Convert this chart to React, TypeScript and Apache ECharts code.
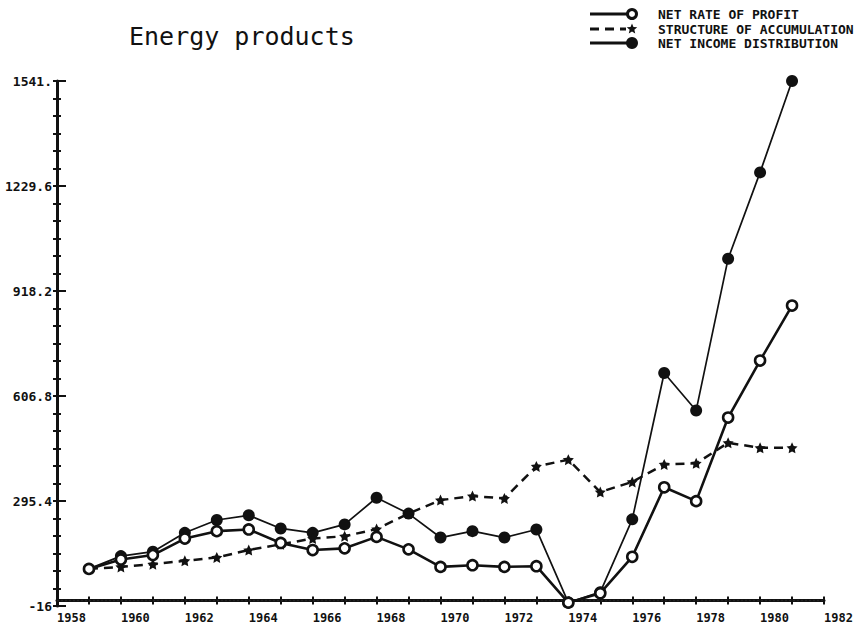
import React, { useEffect, useRef } from "react";
import * as echarts from "echarts";

const TITLE = "Energy products";
const SERIES_NAMES = ["NET RATE OF PROFIT", "STRUCTURE OF ACCUMULATION", "NET INCOME DISTRIBUTION"];

const YEARS = [1959, 1960, 1961, 1962, 1963, 1964, 1965, 1966, 1967, 1968, 1969, 1970, 1971, 1972, 1973, 1974, 1975, 1976, 1977, 1978, 1979, 1980, 1981];
const NET_RATE_OF_PROFIT = [94, 122, 135, 184, 206, 211, 171, 150, 155, 189, 152, 100, 105, 100, 102, -6, 22, 130, 336, 295, 543, 712, 875];
const STRUCTURE_OF_ACCUMULATION = [94, 100, 108, 118, 128, 150, 167, 184, 191, 212, 258, 298, 310, 303, 398, 418, 322, 352, 404, 407, 468, 453, 453];
const NET_INCOME_DISTRIBUTION = [94, 132, 145, 201, 239, 253, 214, 201, 226, 305, 258, 187, 206, 187, 211, -6, 25, 241, 675, 564, 1014, 1270, 1541];

const Y_TICKS = [-16, 295.4, 606.8, 918.2, 1229.6, 1541];
const Y_TICK_LABELS = ["-16", "295.4", "606.8", "918.2", "1229.6", "1541."];
const ZERO_VALUE = 0;
const X_MIN = 1958;
const X_MAX = 1982;
const X_LABEL_STEP = 2;

const INK = "#111";
const MONO = "DejaVu Sans Mono";
const STAR = "path://M0,-10 L2.9,-4 9.5,-3.1 4.7,1.5 5.9,8.1 0,5 -5.9,8.1 -4.7,1.5 -9.5,-3.1 -2.9,-4 Z";

function minorTicks(ticks: number[], parts: number): number[] {
  const out: number[] = [];
  for (let i = 0; i < ticks.length - 1; i++) {
    for (let k = 0; k < parts; k++) {
      out.push(ticks[i] + ((ticks[i + 1] - ticks[i]) * k) / parts);
    }
  }
  out.push(ticks[ticks.length - 1]);
  return out;
}

function starPoints(cx: number, cy: number, r: number): number[][] {
  const pts: number[][] = [];
  for (let i = 0; i < 10; i++) {
    const a = -Math.PI / 2 + (i * Math.PI) / 5;
    const rr = i % 2 === 0 ? r : r * 0.45;
    pts.push([cx + rr * Math.cos(a), cy + rr * Math.sin(a)]);
  }
  return pts;
}

export default function App() {
  const ref = useRef<HTMLDivElement>(null);

  useEffect(() => {
    document.body.style.margin = "0";
    if (!ref.current) return;
    const chart = echarts.init(ref.current, undefined, { renderer: "svg" });
    const yAll = minorTicks(Y_TICKS, 6);
    const yMin = Y_TICKS[0];
    const yMax = Y_TICKS[Y_TICKS.length - 1];

    const yLabel = (v: number) => {
      let best = 0;
      for (let i = 1; i < Y_TICKS.length; i++) {
        if (Math.abs(Y_TICKS[i] - v) < Math.abs(Y_TICKS[best] - v)) best = i;
      }
      return Y_TICK_LABELS[best];
    };

    const baseY = {
      type: "value",
      min: yMin,
      max: yMax,
      position: "left",
      offset: 0,
      splitLine: { show: false },
      axisLine: { show: false },
      axisLabel: { show: false },
    };
    const baseX = {
      type: "value",
      min: X_MIN,
      max: X_MAX,
      interval: X_LABEL_STEP,
      position: "bottom",
      offset: 0,
      splitLine: { show: false },
      axisLine: { show: false },
      axisLabel: { show: false },
    };

    const legendRows = [14, 29, 43];
    const lx0 = 590;
    const lx1 = 632;
    const graphic: any[] = [];
    graphic.push({ type: "line", shape: { x1: lx0, y1: legendRows[0], x2: lx1, y2: legendRows[0] }, style: { stroke: INK, lineWidth: 2.8 } });
    graphic.push({ type: "circle", shape: { cx: lx1, cy: legendRows[0], r: 4.5 }, style: { fill: "#fff", stroke: INK, lineWidth: 3 } });
    graphic.push({ type: "line", shape: { x1: lx0, y1: legendRows[1], x2: lx1 - 6, y2: legendRows[1] }, style: { stroke: INK, lineWidth: 2.8, lineDash: [9, 6] } });
    graphic.push({ type: "polygon", shape: { points: starPoints(lx1, legendRows[1], 5.5) }, style: { fill: INK } });
    graphic.push({ type: "line", shape: { x1: lx0, y1: legendRows[2], x2: lx1, y2: legendRows[2] }, style: { stroke: INK, lineWidth: 2.8 } });
    graphic.push({ type: "circle", shape: { cx: lx1, cy: legendRows[2], r: 6 }, style: { fill: INK } });
    SERIES_NAMES.forEach((name, i) => {
      graphic.push({
        type: "text",
        x: 658,
        y: legendRows[i],
        style: { text: name, fill: INK, font: `bold 13px "${MONO}"`, textVerticalAlign: "middle", textAlign: "left" },
      });
    });

    const pairs = (vals: number[]) => YEARS.map((y, i) => [y, vals[i]]);

    chart.setOption({
      animation: false,
      backgroundColor: "#fff",
      title: {
        text: TITLE,
        left: 124,
        top: 19,
        textStyle: { fontFamily: MONO, fontSize: 25, fontWeight: "normal", color: INK },
      },
      grid: { left: 57, right: 41, top: 81, bottom: 29 },
      xAxis: [
        {
          ...baseX,
          axisLine: { show: true, lineStyle: { color: INK, width: 3 } },
          axisTick: { show: true, inside: false, length: 4, lineStyle: { color: INK, width: 2 } },
          minorTick: { show: true, splitNumber: 2, length: 4, lineStyle: { color: INK, width: 2 } },
          axisLabel: {
            show: true,
            align: "left",
            margin: 6,
            color: INK,
            fontFamily: MONO,
            fontWeight: "bold",
            fontSize: 12,
            formatter: (v: number) => String(Math.round(v)),
          },
        },
        {
          ...baseX,
          axisTick: { show: true, inside: true, length: 4, lineStyle: { color: INK, width: 2 } },
          minorTick: { show: true, splitNumber: 2, length: 4, lineStyle: { color: INK, width: 2 } },
        },
      ],
      yAxis: [
        {
          ...baseY,
          axisLine: { show: true, lineStyle: { color: INK, width: 3 } },
          axisTick: { show: true, inside: false, length: 4, customValues: yAll, lineStyle: { color: INK, width: 2 } },
          axisLabel: {
            show: true,
            margin: 5,
            color: INK,
            fontFamily: MONO,
            fontWeight: "bold",
            fontSize: 13,
            customValues: Y_TICKS,
            formatter: (v: number) => yLabel(v),
          },
        },
        {
          ...baseY,
          axisTick: { show: true, inside: true, length: 4, customValues: yAll, lineStyle: { color: INK, width: 2 } },
        },
        {
          ...baseY,
          axisTick: { show: true, inside: true, length: 9, customValues: Y_TICKS, lineStyle: { color: INK, width: 2 } },
        },
      ],
      graphic,
      series: [
        {
          name: "zero",
          type: "line",
          xAxisIndex: 0,
          yAxisIndex: 0,
          data: [
            [X_MIN, ZERO_VALUE],
            [X_MAX, ZERO_VALUE],
          ],
          symbol: "none",
          silent: true,
          lineStyle: { color: "#222", type: [2, 2], width: 1.5 },
          z: 1,
        },
        {
          name: SERIES_NAMES[2],
          type: "line",
          xAxisIndex: 0,
          yAxisIndex: 0,
          data: pairs(NET_INCOME_DISTRIBUTION),
          symbol: "circle",
          symbolSize: 12,
          itemStyle: { color: INK },
          lineStyle: { color: INK, width: 1.7 },
          z: 2,
        },
        {
          name: SERIES_NAMES[1],
          type: "line",
          xAxisIndex: 0,
          yAxisIndex: 0,
          data: pairs(STRUCTURE_OF_ACCUMULATION),
          symbol: STAR,
          symbolSize: 11,
          itemStyle: { color: INK },
          lineStyle: { color: INK, width: 2.5, type: [9, 6] },
          z: 3,
        },
        {
          name: SERIES_NAMES[0],
          type: "line",
          xAxisIndex: 0,
          yAxisIndex: 0,
          data: pairs(NET_RATE_OF_PROFIT),
          symbol: "circle",
          symbolSize: 10,
          itemStyle: { color: "#fff", borderColor: INK, borderWidth: 2.6 },
          lineStyle: { color: INK, width: 2.6 },
          z: 4,
        },
      ],
    });
    return () => chart.dispose();
  }, []);

  return <div ref={ref} style={{ width: 865, height: 635 }} />;
}
